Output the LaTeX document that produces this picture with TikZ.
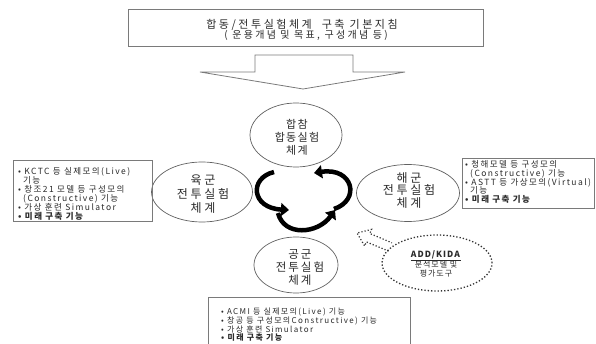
\documentclass[tikz,border=0pt]{standalone}
\usepackage{fontspec}
\setmainfont{Noto Sans CJK KR}
\newfontfamily\lsfont[LetterSpace=12]{Noto Sans CJK KR}
\newfontfamily\lsmid[LetterSpace=17]{Noto Sans CJK KR}
\newfontfamily\lswide[LetterSpace=23]{Noto Sans CJK KR}
\usetikzlibrary{shapes.geometric,arrows.meta}
\definecolor{txt}{HTML}{2A2A2A}
\definecolor{ln}{HTML}{7A7A7A}
\tikzset{
  boxst/.style={draw=ln, line width=0.8pt},
  ellst/.style={ellipse, draw=ln!80!black, line width=0.7pt, inner sep=0pt},
  elltext/.style={text=txt, align=center, inner sep=0pt},
  listst/.style={text=txt, align=left, anchor=north west, inner sep=0pt, font=\lsmid\fontsize{8.5}{8.6}\selectfont},
  cyc/.style={line width=4.5pt, black, -{Triangle[length=8pt,width=13pt]}},
}
\begin{document}
\begin{tikzpicture}[x=1pt,y=-1pt]
\useasboundingbox (0,0) rectangle (596,344);
\fill[white] (0,0) rectangle (596,344);

% top box
\node[boxst, minimum width=355pt, minimum height=37pt, inner sep=0pt] (top) at (305.5,27.5) {};
\node[text=txt, font=\lswide\fontsize{11}{12}\selectfont, inner sep=0pt] (t1) at (302,24.5) {합동/전투실험체계\ \ 구축 기본지침};
\node[text=txt, font=\lswide\fontsize{10}{12}\selectfont, inner sep=0pt] (t2) at (306,35.5) {( 운용개념 및 목표, 구성개념 등)};

% big hollow arrow
\draw[ln, line width=0.8pt] (255,55) -- (353,55) -- (353,72) -- (405,72) -- (303,89) -- (200,72) -- (255,72) -- cycle;

% ellipses
\node[ellst, minimum width=92pt, minimum height=64pt] (jcs) at (296,135) {};
\node[elltext, font=\lsfont\fontsize{11}{12.8}\selectfont] (jcst) at (297,137.5) {합참\\합동실험\\체계};
\node[ellst, minimum width=101pt, minimum height=60pt] (army) at (202,192) {};
\node[elltext, font=\lswide\fontsize{12}{14}\selectfont] (armyt) at (203,194) {육군\\전투실험\\체계};
\node[ellst, minimum width=103pt, minimum height=57pt] (navy) at (408,193) {};
\node[elltext, font=\lswide\fontsize{12}{12.8}\selectfont] (navyt) at (409,190.5) {해군\\전투실험\\체계};
\node[ellst, minimum width=84pt, minimum height=56pt] (af) at (296,265) {};
\node[elltext, font=\lsmid\fontsize{11.5}{12.8}\selectfont] (aft) at (300,267.5) {공군\\전투실험\\체계};

% cycle arrows
\coordinate (la) at (274,172); \coordinate (lb) at (289,210);
\coordinate (ra) at (334,209); \coordinate (rb) at (314,173);
\coordinate (ba) at (278,213); \coordinate (bb) at (335,210);
\draw[cyc] (la) .. controls (249,178) and (251,208) .. (lb);
\draw[cyc] (ra) .. controls (361,200) and (353,167) .. (rb);
\draw[cyc] (ba) .. controls (284,237) and (318,234) .. (bb);

% left box
\node[boxst, minimum width=139pt, minimum height=61pt, inner sep=0pt] (lbox) at (82.5,190.5) {};
\node[listst] (ltext) at (18,167) {• KCTC 등 실제모의(Live)\\
\hspace{5pt}기능\\
• 창조21 모델 등 구성모의\\
\hspace{5pt}(Constructive) 기능\\
• 가상 훈련 Simulator\\
\textbf{• 미래 구축 기능}};

% right box
\node[boxst, minimum width=132pt, minimum height=50pt, inner sep=0pt] (rbox) at (528,183) {};
\node[listst, font=\lsmid\fontsize{8.5}{8.75}\selectfont] (rtext) at (465,160.3) {• 청해모델 등 구성모의\\
\hspace{5pt}(Constructive) 기능\\
• ASTT 등 가상모의(Virtual)\\
\hspace{5pt}기능\\
\textbf{• 미래 구축 기능}};

% bottom box
\node[boxst, minimum width=202pt, minimum height=47pt, inner sep=0pt] (bbox) at (309,320.5) {};
\node[listst, font=\lsmid\fontsize{8}{7.7}\selectfont] (btext) at (221,307.5) {• ACMI 등 실제모의(Live) 기능\\
• 창공 등 구성모의Constructive) 기능\\
• 가상 훈련 Simulator\\
\textbf{• 미래 구축 기능}};

% ADD/KIDA
\node[ellipse, draw=black!80, dotted, line width=1.3pt, minimum width=110pt, minimum height=56pt, inner sep=0pt] (add) at (437,263) {};
\node[text=txt, inner sep=0pt, font=\lsfont\fontsize{8.5}{9}\selectfont] (addt1) at (436,255) {\textbf{ADD/KIDA}};
\draw[txt, line width=0.6pt] (addt1.south west) ++(0,1.2) -- ([yshift=-1.2pt]addt1.south east);
\node[text=txt, inner sep=0pt, font=\lsfont\fontsize{8}{9}\selectfont] (addt2) at (436,265) {분석모델 및};
\node[text=txt, inner sep=0pt, font=\lsfont\fontsize{8}{9}\selectfont] (addt3) at (436,273.5) {평가도구};
\draw[black!80, dotted, line width=1.2pt] (388.5,251.1) -- (366.4,241.9) -- (364.6,246.0) -- (357,233) -- (371.6,229.4) -- (369.8,233.5) -- (391.9,242.8);
\end{tikzpicture}
\end{document}
